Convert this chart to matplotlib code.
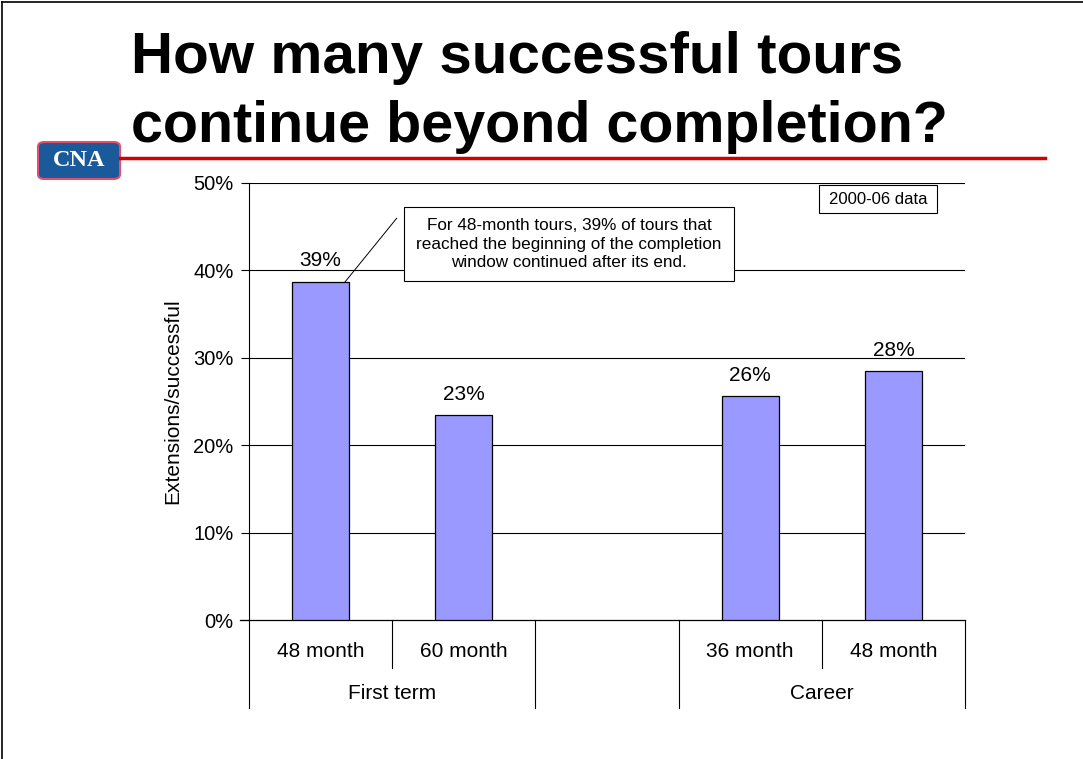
import numpy as np
import matplotlib.pyplot as plt
from matplotlib.patches import FancyBboxPatch, Rectangle
from matplotlib.lines import Line2D

plt.rcParams['font.family'] = ['Liberation Sans', 'DejaVu Sans']

# data
positions = [0, 1, 3, 4]
values = [38.7, 23.4, 25.6, 28.5]
value_labels = ["39%", "23%", "26%", "28%"]
slot_labels = ["48 month", "60 month", "", "36 month", "48 month"]
groups = ["First term", "Career"]
group_centers = [0.5, 3.5]
yticks = [0, 10, 20, 30, 40, 50]
note = "For 48-month tours, 39% of tours that\nreached the beginning of the completion\nwindow continued after its end."

fig = plt.figure(figsize=(10.83, 7.59), dpi=100)
ax = fig.add_axes([249 / 1083, 1 - 620 / 759, 716 / 1083, 437 / 759])

ax.bar(positions, values, width=0.4, color="#9999FF", edgecolor="black", linewidth=0.9, zorder=3)
for x, v, lab in zip(positions, values, value_labels):
    ax.text(x, v + 1.3, lab, ha="center", va="bottom", fontsize=15)

for y in yticks[1:]:
    ax.axhline(y, color="black", linewidth=0.8, zorder=1)

ax.set_xlim(-0.5, 4.5)
ax.set_ylim(0, 50)
ax.set_yticks(yticks)
ax.set_yticklabels([f"{t}%" for t in yticks], fontsize=14.5)
ax.tick_params(axis="y", direction="out", length=6, width=0.8, pad=5)
ax.set_xticks([])
for s in ["top", "right"]:
    ax.spines[s].set_visible(False)
ax.spines["left"].set_linewidth(0.8)
ax.spines["bottom"].set_visible(False)
ax.set_ylabel("Extensions/successful", fontsize=15, labelpad=8)

# category axis below
tr = ax.get_xaxis_transform()
ax.add_line(Line2D([-0.56, 4.5], [0, 0], transform=tr, color="black", lw=0.9, clip_on=False))
for xb in [-0.5, 1.5, 2.5, 4.5]:
    ax.add_line(Line2D([xb, xb], [0, -0.201], transform=tr, color="black", lw=0.8, clip_on=False))
for xb in [0.5, 3.5]:
    ax.add_line(Line2D([xb, xb], [0, -0.11], transform=tr, color="black", lw=0.8, clip_on=False))
for i, lab in enumerate(slot_labels):
    ax.text(i, -0.071, lab, transform=tr, ha="center", va="center", fontsize=15)
for xc, g in zip(group_centers, groups):
    ax.text(xc, -0.169, g, transform=tr, ha="center", va="center", fontsize=15)

# callout
ax.add_patch(Rectangle((0.582, 38.79), 2.307, 8.43, fc="white", ec="black", lw=0.8, zorder=5))
ax.text(1.735, 43.0, note, ha="center", va="center", fontsize=12.3, linespacing=1.28, zorder=6)
ax.plot([0.17, 0.531], [38.67, 45.96], color="black", lw=0.7, zorder=6)

ax.add_patch(Rectangle((3.483, 46.53), 0.82, 3.24, fc="white", ec="black", lw=0.8, zorder=5))
ax.text(3.893, 48.15, "2000-06 data", ha="center", va="center", fontsize=12, zorder=6)

# title
fig.text(131 / 1083, 1 - 73 / 759, "How many successful tours", fontsize=42, fontweight="bold", ha="left", va="baseline")
fig.text(131 / 1083, 1 - 142 / 759, "continue beyond completion?", fontsize=41.3, fontweight="bold", ha="left", va="baseline")
fig.add_artist(Line2D([120 / 1083, 1045 / 1083], [1 - 158 / 759] * 2, color="#d40000", lw=2.5))

# logo
logo = FancyBboxPatch((38 / 1083, 1 - 179 / 759), 82 / 1083, 37 / 759,
                      boxstyle="round,pad=0,rounding_size=0.006", transform=fig.transFigure,
                      fc="#1a5a9a", ec="#e05070", lw=1.5)
fig.add_artist(logo)
fig.text(79 / 1083, 1 - 161 / 759, "CNA", color="white", fontsize=17.5, fontweight="bold",
         family=["Liberation Serif", "DejaVu Serif"], ha="center", va="center")

# page border
fig.add_artist(Line2D([2 / 1083, 2 / 1083], [0, 1 - 2 / 759], color="black", lw=1.2))
fig.add_artist(Line2D([2 / 1083, 1], [1 - 2 / 759] * 2, color="black", lw=1.2))

fig.savefig("out.png", dpi=100)
